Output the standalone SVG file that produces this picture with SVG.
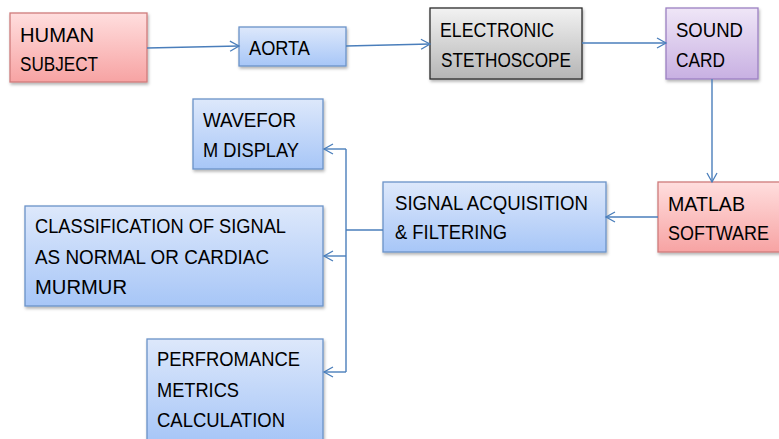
<svg xmlns="http://www.w3.org/2000/svg" width="779" height="439" viewBox="0 0 779 439">
<defs>
<linearGradient id="gBlue" x1="0" y1="0" x2="0" y2="1"><stop offset="0" stop-color="#dde8fb"/><stop offset="1" stop-color="#a7c6f7"/></linearGradient>
<linearGradient id="gRed" x1="0" y1="0" x2="0" y2="1"><stop offset="0" stop-color="#ffdede"/><stop offset="1" stop-color="#f7a3a3"/></linearGradient>
<linearGradient id="gGray" x1="0" y1="0" x2="0" y2="1"><stop offset="0" stop-color="#f2f2f2"/><stop offset="1" stop-color="#b5b5b5"/></linearGradient>
<linearGradient id="gPurple" x1="0" y1="0" x2="0" y2="1"><stop offset="0" stop-color="#efe6f7"/><stop offset="1" stop-color="#c8b0e2"/></linearGradient>
<filter id="sh" x="-10%" y="-10%" width="130%" height="140%"><feDropShadow dx="1" dy="2" stdDeviation="1.5" flood-color="#000" flood-opacity="0.3"/></filter>
<marker id="arr" markerWidth="12" markerHeight="12" refX="10" refY="6" orient="auto" markerUnits="userSpaceOnUse"><path d="M1,1 L10,6 L1,11" fill="none" stroke="#4a7ebb" stroke-width="1.3"/></marker>
</defs>
<style>
.t{font-family:"Liberation Sans",Arial,sans-serif;font-size:21px;fill:#000}
.blue{fill:url(#gBlue);stroke:#6b93c8;stroke-width:1.3}
.red{fill:url(#gRed);stroke:#cf7c7c;stroke-width:1.3}
.gray{fill:url(#gGray);stroke:#2b2b2b;stroke-width:1.3}
.purple{fill:url(#gPurple);stroke:#9b80c2;stroke-width:1.3}
.c{fill:none;stroke:#4a7ebb;stroke-width:1.4}
</style>
<g id="human"><rect class="red" x="10" y="13" width="137" height="69" filter="url(#sh)"/><text class="t" x="20" y="42" textLength="74" lengthAdjust="spacingAndGlyphs">HUMAN</text><text class="t" x="20" y="71" textLength="78" lengthAdjust="spacingAndGlyphs">SUBJECT</text></g>
<g id="aorta"><rect class="blue" x="239" y="27" width="107" height="39" filter="url(#sh)"/><text class="t" x="249" y="55" textLength="61" lengthAdjust="spacingAndGlyphs">AORTA</text></g>
<g id="stetho"><rect class="gray" x="430" y="8" width="152" height="71" filter="url(#sh)"/><text class="t" x="440" y="37" textLength="114" lengthAdjust="spacingAndGlyphs">ELECTRONIC</text><text class="t" x="441" y="67" textLength="130" lengthAdjust="spacingAndGlyphs">STETHOSCOPE</text></g>
<g id="sound"><rect class="purple" x="666" y="8" width="92" height="71" filter="url(#sh)"/><text class="t" x="676" y="37" textLength="67" lengthAdjust="spacingAndGlyphs">SOUND</text><text class="t" x="676" y="67" textLength="49" lengthAdjust="spacingAndGlyphs">CARD</text></g>
<g id="matlab"><rect class="red" x="658" y="182" width="130" height="70" filter="url(#sh)"/><text class="t" x="668" y="211" textLength="77" lengthAdjust="spacingAndGlyphs">MATLAB</text><text class="t" x="668" y="240" textLength="101" lengthAdjust="spacingAndGlyphs">SOFTWARE</text></g>
<g id="signal"><rect class="blue" x="383" y="182" width="223" height="70" filter="url(#sh)"/><text class="t" x="395" y="210" textLength="193" lengthAdjust="spacingAndGlyphs">SIGNAL ACQUISITION</text><text class="t" x="395" y="239" textLength="112" lengthAdjust="spacingAndGlyphs">&amp; FILTERING</text></g>
<g id="waveform"><rect class="blue" x="193" y="99" width="130" height="70" filter="url(#sh)"/><text class="t" x="203" y="127" textLength="93" lengthAdjust="spacingAndGlyphs">WAVEFOR</text><text class="t" x="203" y="157" textLength="96" lengthAdjust="spacingAndGlyphs">M DISPLAY</text></g>
<g id="classification"><rect class="blue" x="25" y="206" width="298" height="100" filter="url(#sh)"/><text class="t" x="35" y="233" textLength="251" lengthAdjust="spacingAndGlyphs">CLASSIFICATION OF SIGNAL</text><text class="t" x="35" y="264" textLength="234" lengthAdjust="spacingAndGlyphs">AS NORMAL OR CARDIAC</text><text class="t" x="35" y="294" textLength="92" lengthAdjust="spacingAndGlyphs">MURMUR</text></g>
<g id="performance"><rect class="blue" x="147" y="339" width="176" height="102" filter="url(#sh)"/><text class="t" x="157" y="366" textLength="143" lengthAdjust="spacingAndGlyphs">PERFROMANCE</text><text class="t" x="157" y="397" textLength="82" lengthAdjust="spacingAndGlyphs">METRICS</text><text class="t" x="157" y="427" textLength="128" lengthAdjust="spacingAndGlyphs">CALCULATION</text></g>
<g id="connectors">
<path class="c" d="M147,48 L239,46" marker-end="url(#arr)"/>
<path class="c" d="M346,46 L430,44" marker-end="url(#arr)"/>
<path class="c" d="M582,43 L666,43" marker-end="url(#arr)"/>
<path class="c" d="M712,79 L712,182" marker-end="url(#arr)"/>
<path class="c" d="M658,217 L606,217" marker-end="url(#arr)"/>
<path class="c" d="M383,230 L346,230"/>
<path class="c" d="M346,149 L346,372"/>
<path class="c" d="M346,149 L324,149" marker-end="url(#arr)"/>
<path class="c" d="M346,256 L324,256" marker-end="url(#arr)"/>
<path class="c" d="M346,372 L324,372" marker-end="url(#arr)"/>
</g>
</svg>
